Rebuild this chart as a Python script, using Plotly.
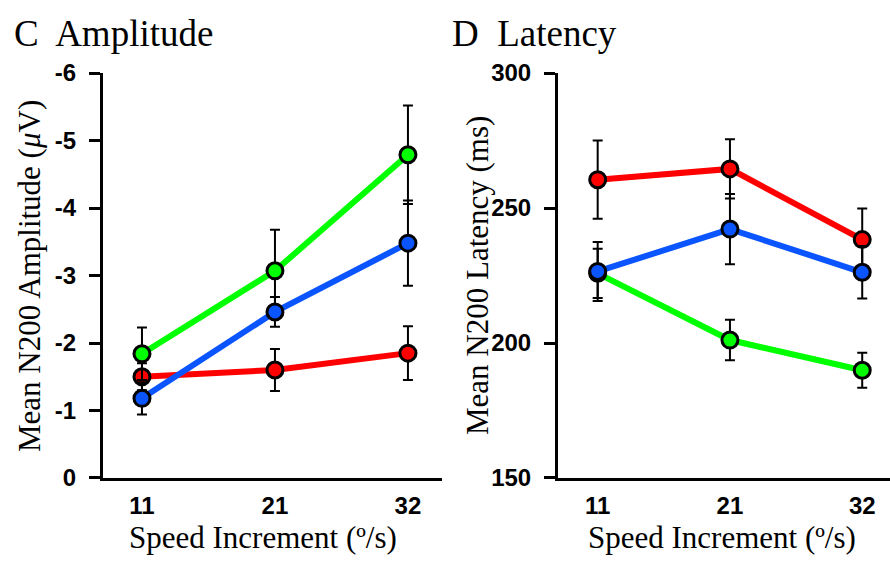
import plotly.graph_objects as go

# ---- data ----
speeds = ["11", "21", "32"]

amp_red = [-1.50, -1.60, -1.85]
amp_red_err = [0.20, 0.31, 0.40]
amp_green = [-1.84, -3.07, -4.79]
amp_green_err = [0.39, 0.61, 0.73]
amp_blue = [-1.18, -2.46, -3.48]
amp_blue_err = [0.24, 0.22, 0.63]

lat_red = [260.5, 264.5, 238.3]
lat_red_err = [14.5, 11.0, 11.5]
lat_green = [225.8, 201.1, 189.9]
lat_green_err = [9.1, 7.5, 6.5]
lat_blue = [226.5, 242.2, 226.2]
lat_blue_err = [10.9, 13.0, 9.7]

amp_ticks = [0, -1, -2, -3, -4, -5, -6]
amp_ticktext = ["0", "-1", "-2", "-3", "-4", "-5", "-6"]
lat_ticks = [150, 200, 250, 300]
lat_ticktext = ["150", "200", "250", "300"]

colors = {"red": "#ff0000", "green": "#00ff00", "blue": "#0a55ff"}

W, H = 890, 571
fig = go.Figure()

def add_series(y, err, color, xa, ya):
    fig.add_trace(go.Scatter(
        x=speeds, y=y, xaxis=xa, yaxis=ya, mode="lines+markers",
        line=dict(color=color, width=6),
        marker=dict(size=16, color=color, line=dict(color="black", width=3)),
        error_y=dict(type="data", array=err, visible=True, color="black",
                     thickness=2, width=5),
        showlegend=False, cliponaxis=False,
    ))

for y, e, c in [(amp_red, amp_red_err, "red"), (amp_green, amp_green_err, "green"),
                (amp_blue, amp_blue_err, "blue")]:
    add_series(y, e, colors[c], "x", "y")
for y, e, c in [(lat_red, lat_red_err, "red"), (lat_green, lat_green_err, "green"),
                (lat_blue, lat_blue_err, "blue")]:
    add_series(y, e, colors[c], "x2", "y2")

ydom = [(H - 487) / H, (H - 62) / H]
tickfont = dict(family="Liberation Sans", size=24, color="black", weight="bold")

xcommon = dict(type="category", showgrid=False, zeroline=False, showline=True,
               linecolor="black", linewidth=3, ticks="", tickfont=tickfont,
               ticklabelstandoff=4)
ycommon = dict(showgrid=False, zeroline=False, showline=True, linecolor="black",
               linewidth=3, ticks="outside", ticklen=11, tickwidth=3,
               tickcolor="black", tickfont=tickfont, ticklabelstandoff=8)

fig.update_layout(
    width=W, height=H, margin=dict(l=0, r=0, t=0, b=0),
    paper_bgcolor="white", plot_bgcolor="white",
    xaxis=dict(domain=[103 / W, 442 / W], range=[-0.293, 2.256], anchor="y", **xcommon),
    yaxis=dict(domain=ydom, range=[0, -6], tickvals=amp_ticks, ticktext=amp_ticktext,
               anchor="x", **ycommon),
    xaxis2=dict(domain=[558 / W, 1.0], range=[-0.30, 2.21], anchor="y2", **xcommon),
    yaxis2=dict(domain=ydom, range=[150, 300], tickvals=lat_ticks, ticktext=lat_ticktext,
                anchor="x2", **ycommon),
)

serif = "Liberation Serif"
ann = [
    dict(text="C  Amplitude", x=12 / W, y=1 - 20 / H, xanchor="left", yanchor="middle",
         font=dict(family=serif, size=37)),
    dict(text="D  Latency", x=450 / W, y=1 - 20 / H, xanchor="left", yanchor="middle",
         font=dict(family=serif, size=37)),
    dict(text="Speed Increment (º/s)", x=263 / W, y=1 - 550 / H, xanchor="center",
         yanchor="middle", font=dict(family=serif, size=31)),
    dict(text="Speed Increment (º/s)", x=722 / W, y=1 - 550 / H, xanchor="center",
         yanchor="middle", font=dict(family=serif, size=31)),
    dict(text="Mean N200 Amplitude (<i>μ</i>V)", x=30 / W, y=1 - 275 / H, xanchor="center",
         yanchor="middle", textangle=-90, font=dict(family=serif, size=31)),
    dict(text="Mean N200 Latency (ms)", x=478 / W, y=1 - 275 / H, xanchor="center",
         yanchor="middle", textangle=-90, font=dict(family=serif, size=31)),
]
for a in ann:
    a.update(xref="paper", yref="paper", showarrow=False)
    a["font"]["color"] = "black"
fig.update_layout(annotations=ann)

post = ("var s=document.documentElement.style;s.margin='0';s.padding='0';s.overflow='hidden';"
        "var b=document.body.style;b.margin='0';b.padding='0';b.overflow='hidden';")
fig.write_html("out.html", post_script=post)
